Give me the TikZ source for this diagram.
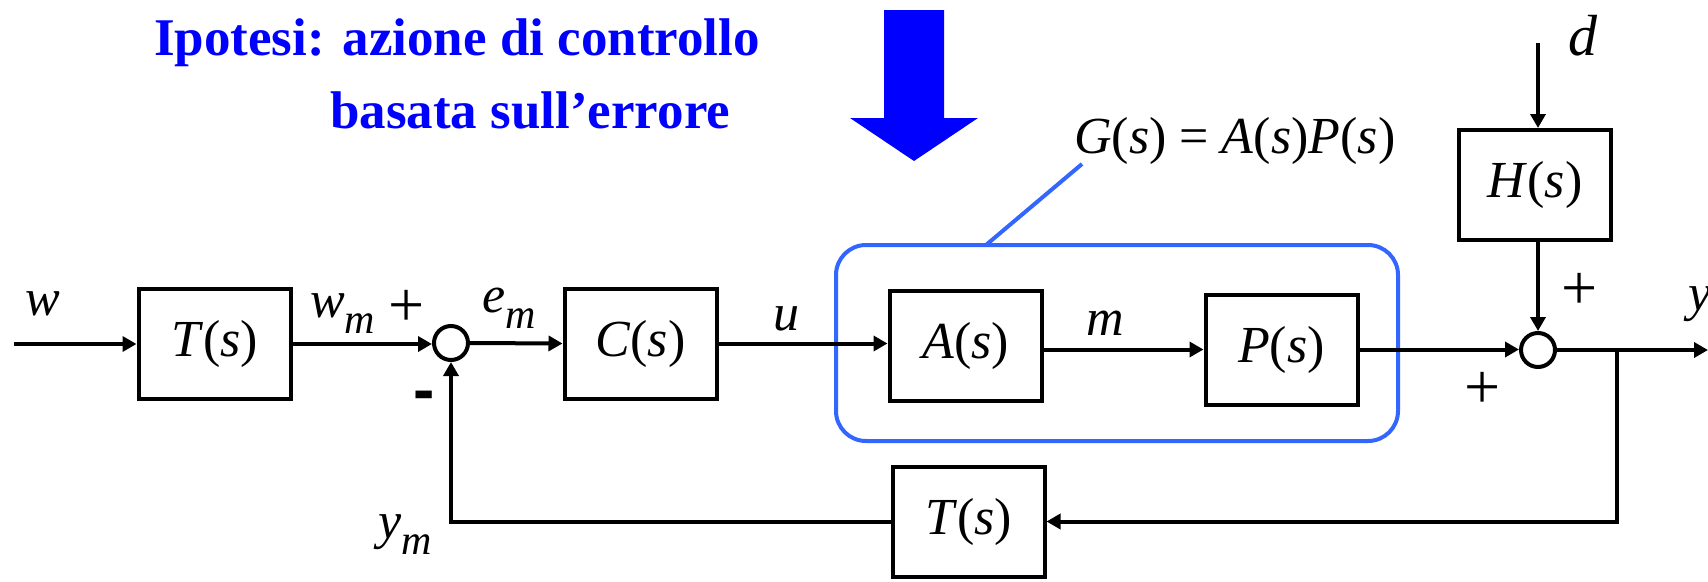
\documentclass[tikz,border=0pt]{standalone}
\usepackage{fontspec}
\setmainfont{Liberation Serif}
\newfontfamily\plainsans{Liberation Sans}
\usetikzlibrary{arrows.meta}
\newcommand{\mysub}[1]{\raisebox{-16pt}{\fontsize{42}{44}\selectfont\itshape #1}}
\newcommand{\tf}[1]{\textit{#1}(\textit{s})}
\definecolor{grpblue}{RGB}{51,102,255}
\tikzset{
  sig/.style={line width=4pt, -{Triangle[length=14pt,width=15pt]}},
  blk/.style={draw, line width=4pt, minimum width=152pt, minimum height=110pt, inner sep=0pt, font=\fontsize{52}{60}\selectfont},
  sumnode/.style={draw, circle, line width=4pt, minimum size=34pt, inner sep=0pt},
  grp/.style={draw=grpblue, line width=4pt, rounded corners=30pt, minimum width=562pt, minimum height=196pt, inner sep=0pt},
  blueline/.style={draw=grpblue, line width=4pt},
  lab/.style={inner sep=0pt, font=\fontsize{52}{60}\selectfont},
  sgn/.style={inner sep=0pt, font=\fontsize{64}{70}\selectfont},
  minus/.style={inner sep=0pt, font=\plainsans\bfseries\fontsize{64}{70}\selectfont},
  head/.style={inner sep=0pt, text=blue, font=\bfseries\fontsize{53}{60}\selectfont}
}
\begin{document}
\begin{tikzpicture}[x=1pt,y=-1pt]
\useasboundingbox (0,0) rectangle (1708,581);
% heading
\node[head, anchor=base west] (h1) at (154,55) {Ipotesi: azione di controllo};
\node[head, anchor=base west] (h2) at (330,128) {basata sull’errore};
\fill[blue] (884,10) -- (944,10) -- (944,118) -- (978,118) -- (914,161) -- (850,118) -- (884,118) -- cycle;
% group
\node[grp] (G) at (1117,343) {};
\node[lab, anchor=base west] (gtxt) at (1074,153) {\textit{G}(\textit{s}) = \textit{A}(\textit{s})\textit{P}(\textit{s})};
\coordinate (gl) at (1082,164);
\coordinate (gr) at (986,245);
\draw[blueline] (gl) -- (gr);
% blocks
\node[blk] (T1) at (214.5,344) {\tf{T}};
\node[blk] (C) at (640.5,343.5) {\tf{C}};
\node[blk] (A) at (965.5,345.5) {\tf{A}};
\node[blk] (P) at (1281.5,349.5) {\tf{P}};
\node[blk] (H) at (1535,185) {\tf{H}};
\node[blk] (T2) at (968.5,521.5) {\tf{T}};
\node[sumnode] (S1) at (451,343) {};
\node[sumnode] (S2) at (1538,350) {};
% coordinates
\coordinate (win) at (14,344);
\coordinate (dtop) at (1538,43);
\coordinate (yout) at (1708,350);
\coordinate (br) at (1617,350);
% connectors
\draw[sig] (win) -- (T1.west);
\draw[sig] (T1.east) -- (T1.east -| S1.west);
\draw[sig] (S1.east) -- (C.west);
\draw[sig] (C.east) -- (C.east -| A.west);
\draw[sig] (A.east |- P.west) -- (P.west);
\draw[sig] (P.east) -- (P.east -| S2.west);
\draw[sig] (dtop) -- (dtop |- H.north);
\draw[sig] (H.south -| S2.north) -- (S2.north);
\draw[sig] (S2.east) -- (yout);
\draw[sig] (br) -- (br |- T2.east) -- (T2.east);
\draw[sig] (T2.west) -- (S1 |- T2.west) -- (S1.south);
% labels
\node[lab, anchor=base west] (lw) at (25,315) {\textit{w}};
\node[lab, anchor=base west] (lwm) at (310,317) {\textit{w}\mysub{m}};
\node[lab, anchor=base west] (lem) at (482,312) {\textit{e}\mysub{m}};
\node[lab, anchor=base west] (lu) at (773,330) {\textit{u}};
\node[lab, anchor=base west] (lm) at (1086,335) {\textit{m}};
\node[lab, anchor=base west] (ly) at (1688,310) {\textit{y}};
\node[lab, anchor=base west, font=\fontsize{58}{64}\selectfont] (ld) at (1568,55) {\textit{d}};
\node[lab, anchor=base west] (lym) at (378,538) {\textit{y}\mysub{m}};
\node[sgn] (p1) at (407,308) {+};
\node[sgn] (p2) at (1580,291) {+};
\node[sgn] (p3) at (1483,390) {+};
\node[minus, anchor=base] (mn) at (424,411.5) {-};
\end{tikzpicture}
\end{document}
